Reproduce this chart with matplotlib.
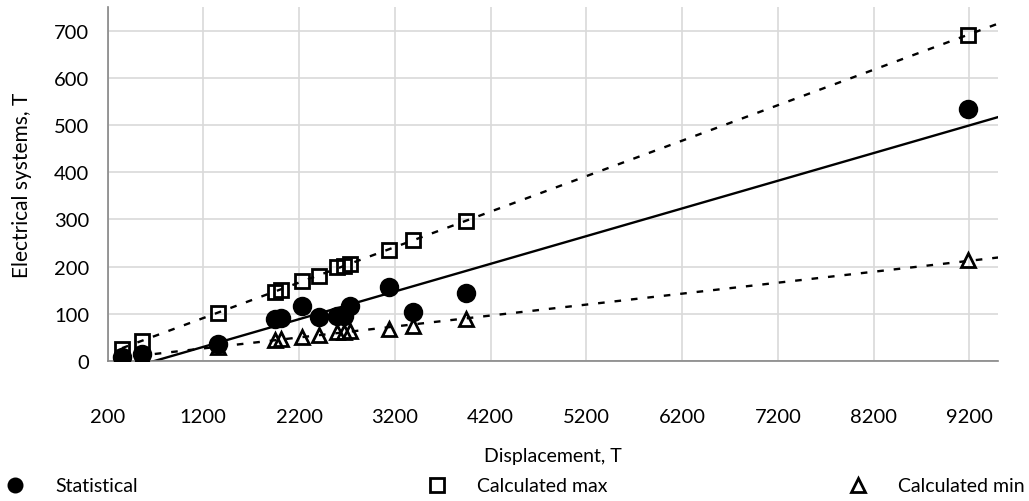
import numpy as np
import matplotlib
matplotlib.use('Agg')
import matplotlib.pyplot as plt
from matplotlib.lines import Line2D

plt.rcParams['font.family'] = ['Lato', 'DejaVu Sans']

# displacement of each ship, T
displacement = [350, 560, 1350, 1950, 2010, 2230, 2410, 2600, 2670, 2730, 3140, 3390, 3945, 9190]
# electrical systems mass, T
statistical = [8, 15, 36, 88, 90, 117, 93, 96, 96, 116, 156, 103, 144, 534]
calc_max = [25, 43, 102, 147, 151, 170, 181, 199, 202, 206, 236, 257, 296, 691]
calc_min = [8, 11, 29, 45, 47, 50, 54, 61, 62, 64, 68, 75, 89, 213]

x_ticks = [200, 1200, 2200, 3200, 4200, 5200, 6200, 7200, 8200, 9200]
y_ticks = [0, 100, 200, 300, 400, 500, 600, 700]
x_lim = (200, 9500)
y_lim = (0, 750)

x = np.array(displacement, dtype=float)

fig = plt.figure(figsize=(10.29, 5.02), dpi=100)
ax = fig.add_axes([0.1045, 0.279, 0.8655, 0.705])

dash = (0, (2.8, 4.2))
series = [
    (statistical, 'o', 'black', '-', 'Statistical', 12),
    (calc_max, 's', 'none', dash, 'Calculated max', 10.5),
    (calc_min, '^', 'none', dash, 'Calculated min', 10.5),
]

xx = np.array([x.min(), x_lim[1]])
legend_x = [0.0, 0.410, 0.819]
for (vals, mk, fc, ls, name, ms), lx in zip(series, legend_x):
    y = np.array(vals, dtype=float)
    # linear trendline, extended to the right edge
    p = np.poly1d(np.polyfit(x, y, 1))
    ax.plot(xx, p(xx), color='black', lw=1.7, linestyle=ls, zorder=2)
    ax.plot(x, y, linestyle='none', marker=mk, markersize=ms,
            markerfacecolor=fc, markeredgecolor='black', markeredgewidth=2,
            zorder=3)
    # legend: marker row, then the (clipped) trendline row
    h = [Line2D([], [], linestyle='none', marker=mk, markersize=9.5,
                markerfacecolor=fc, markeredgecolor='black',
                markeredgewidth=2, label=name),
         Line2D([], [], color='black', lw=1.7, linestyle=ls,
                label='Linear (' + name + ')')]
    fig.legend(handles=h, loc='upper left', bbox_to_anchor=(lx, 0.047),
               frameon=False, fontsize=14, handlelength=1.54,
               handletextpad=1.3, borderpad=0, borderaxespad=0,
               labelspacing=0.5)

ax.set_xlim(*x_lim)
ax.set_ylim(*y_lim)
ax.set_xticks(x_ticks)
ax.set_yticks(y_ticks)
ax.grid(True, color='#d9d9d9', lw=1.2, zorder=0)
ax.set_axisbelow(True)
for s in ['top', 'right']:
    ax.spines[s].set_visible(False)
for s in ['left', 'bottom']:
    ax.spines[s].set_color('#868686')
    ax.spines[s].set_linewidth(1.2)
ax.tick_params(axis='both', length=0, labelsize=14.5)
ax.tick_params(axis='y', pad=13)
ax.tick_params(axis='x', pad=34)

ax.set_xlabel('Displacement, T', fontsize=14, labelpad=16)
ax.set_ylabel('Electrical systems, T', fontsize=15, labelpad=16)

plt.savefig('out.png', dpi=100)
